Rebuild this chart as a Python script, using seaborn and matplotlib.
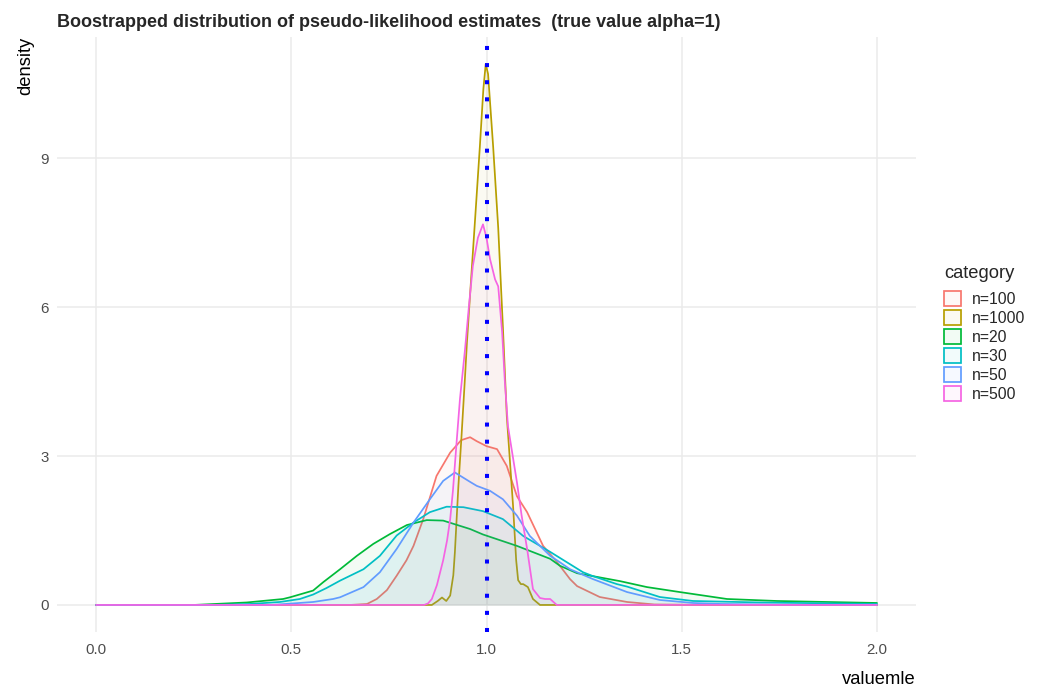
import numpy as np
import pandas as pd
import matplotlib
matplotlib.use("Agg")
import matplotlib.pyplot as plt
import seaborn as sns
from matplotlib.patches import Patch
from matplotlib.colors import to_rgba

# ---------------- data ----------------
categories = ["n=100", "n=1000", "n=20", "n=30", "n=50", "n=500"]
colors = ["#F8766D", "#B79F00", "#00BA38", "#00BFC4", "#619CFF", "#F564E3"]

x_n100 = [0.0, 0.65, 0.694, 0.719, 0.745, 0.77, 0.795, 0.813, 0.838, 0.872, 0.907, 0.935, 0.958,
          0.975, 1.0, 1.027, 1.052, 1.078, 1.104, 1.145, 1.18, 1.214, 1.232, 1.29, 1.36, 1.43,
          1.6, 2.0]
y_n100 = [0, 0, 0.02, 0.12, 0.3, 0.59, 0.9, 1.19, 1.73, 2.6, 3.07, 3.32, 3.38,
          3.3, 3.2, 3.14, 2.8, 2.19, 1.87, 1.19, 0.87, 0.52, 0.38, 0.16, 0.06, 0.01,
          0, 0]

x_n1000 = [0.0, 0.86, 0.875, 0.886, 0.897, 0.907, 0.915, 0.919, 0.928, 0.936, 0.945, 0.95, 0.96,
           0.971, 0.983, 0.992, 0.998, 1.004, 1.017, 1.03, 1.042, 1.052, 1.06, 1.068, 1.076,
           1.081, 1.088, 1.094, 1.106, 1.119, 1.137, 2.0]
y_n1000 = [0, 0, 0.08, 0.15, 0.08, 0.19, 0.6, 1.06, 2.4, 3.4, 4.6, 5.3, 6.5,
           7.8, 9.24, 10.4, 10.9, 10.7, 9.24, 7.6, 5.6, 3.8, 2.9, 2.0, 0.9,
           0.5, 0.42, 0.42, 0.36, 0.12, 0, 0]

x_n20 = [0.0, 0.25, 0.386, 0.479, 0.497, 0.556, 0.582, 0.625, 0.668, 0.71, 0.753, 0.796, 0.847,
         0.889, 0.958, 0.991, 1.078, 1.163, 1.188, 1.232, 1.273, 1.342, 1.411, 1.495, 1.616,
         1.744, 2.0]
y_n20 = [0, 0, 0.05, 0.12, 0.155, 0.29, 0.46, 0.72, 0.99, 1.23, 1.43, 1.61, 1.71,
         1.70, 1.53, 1.42, 1.19, 0.93, 0.79, 0.64, 0.58, 0.48, 0.36, 0.26, 0.12,
         0.08, 0.04]

x_n30 = [0.0, 0.3, 0.394, 0.471, 0.522, 0.556, 0.59, 0.625, 0.685, 0.727, 0.77, 0.813, 0.855,
         0.898, 0.941, 0.991, 1.042, 1.094, 1.163, 1.247, 1.273, 1.334, 1.36, 1.444, 1.529,
         1.70, 2.0]
y_n30 = [0, 0, 0.02, 0.06, 0.12, 0.21, 0.34, 0.49, 0.72, 0.99, 1.4, 1.66, 1.87,
         1.98, 1.97, 1.89, 1.73, 1.39, 1.07, 0.66, 0.58, 0.42, 0.37, 0.16, 0.08,
         0.05, 0.02]

x_n50 = [0.0, 0.45, 0.556, 0.607, 0.625, 0.685, 0.727, 0.77, 0.813, 0.855, 0.889, 0.919, 0.958,
         0.975, 1.009, 1.042, 1.078, 1.111, 1.163, 1.188, 1.214, 1.273, 1.36, 1.444, 1.529,
         1.6, 1.75, 2.0]
y_n50 = [0, 0, 0.06, 0.12, 0.155, 0.36, 0.66, 1.13, 1.66, 2.13, 2.5, 2.67, 2.48,
         2.4, 2.3, 2.13, 1.8, 1.39, 0.99, 0.86, 0.72, 0.52, 0.26, 0.1, 0.04,
         0.02, 0.005, 0]

x_n500 = [0.0, 0.84, 0.85, 0.86, 0.873, 0.889, 0.899, 0.907, 0.914, 0.924, 0.932, 0.945, 0.955,
          0.965, 0.978, 0.991, 1.0, 1.009, 1.022, 1.03, 1.04, 1.047, 1.055, 1.078, 1.09, 1.104,
          1.119, 1.137, 1.15, 1.163, 1.18, 2.0]
y_n500 = [0, 0, 0.03, 0.12, 0.4, 0.9, 1.3, 1.73, 2.3, 3.34, 4.15, 5.15, 6.02,
          6.83, 7.4, 7.67, 7.4, 6.97, 6.56, 6.42, 5.5, 4.5, 3.6, 2.47, 1.8, 1.13,
          0.32, 0.14, 0.12, 0.12, 0, 0]

true_alpha = 1.0
x_ticks = [0.0, 0.5, 1.0, 1.5, 2.0]
x_tick_labels = ["0.0", "0.5", "1.0", "1.5", "2.0"]
y_ticks = [0, 3, 6, 9]
y_tick_labels = ["0", "3", "6", "9"]

title = "Boostrapped distribution of pseudo-likelihood estimates  (true value alpha=1)"

# ---------------- build long table ----------------
series = {
    "n=100": (x_n100, y_n100),
    "n=1000": (x_n1000, y_n1000),
    "n=20": (x_n20, y_n20),
    "n=30": (x_n30, y_n30),
    "n=50": (x_n50, y_n50),
    "n=500": (x_n500, y_n500),
}
frames = []
for cat in categories:
    xs, ys = series[cat]
    frames.append(pd.DataFrame({"valuemle": xs, "density": ys, "category": cat}))
df = pd.concat(frames, ignore_index=True)

# ---------------- style ----------------
sns.set_style("white")
plt.rcParams["font.family"] = ["Liberation Sans", "DejaVu Sans"]

fig = plt.figure(figsize=(10.55, 6.98), dpi=100)
W, H = 1055, 698
ax = fig.add_axes([57 / W, 1 - 632 / H, (916 - 57) / W, (632 - 37) / H])

grid_c = "#ebebeb"
for xt in x_ticks:
    ax.axvline(xt, color=grid_c, lw=1.1, zorder=0)
for yt in y_ticks:
    ax.axhline(yt, color=grid_c, lw=1.1, zorder=0)

palette = dict(zip(categories, colors))
z = 2
for cat in categories:
    sub = df[df["category"] == cat]
    ax.fill_between(sub["valuemle"], 0, sub["density"], color=palette[cat], alpha=0.05,
                    lw=0, zorder=z)
    sns.lineplot(data=sub, x="valuemle", y="density", color=palette[cat], lw=1.25,
                 estimator=None, sort=False, ax=ax, zorder=z + 0.5, legend=False)
    z += 1

ax.axvline(true_alpha, color="blue", lw=2.9, linestyle=(0, (1, 3.25)),
           dash_capstyle="butt", zorder=20)

ymax = df["density"].max()
ax.set_xlim(-0.1, 2.1)
ax.set_ylim(-0.05 * ymax, 1.05 * ymax)
ax.set_xticks(x_ticks)
ax.set_xticklabels(x_tick_labels)
ax.set_yticks(y_ticks)
ax.set_yticklabels(y_tick_labels)
ax.tick_params(axis="both", length=0, labelsize=10.8, labelcolor="#4d4d4d")
ax.tick_params(axis="x", pad=8)
ax.tick_params(axis="y", pad=6)
for s in ax.spines.values():
    s.set_visible(False)
ax.grid(False)

ax.set_xlabel("valuemle", loc="right", fontsize=13.2, color="black", labelpad=10)
ax.set_ylabel("density", loc="top", fontsize=13.2, color="black", labelpad=4)
ax.set_title(title, loc="left", fontsize=13.0, fontweight="bold", pad=7)

# legend (title placed separately to control the gap)
fig.text(944 / W, 1 - 274 / H, "category", fontsize=13.2, va="center", ha="left")
handles = [Patch(facecolor=to_rgba(c, 0.05), edgecolor=c, lw=1.25, label=cat)
           for cat, c in zip(categories, colors)]
leg = fig.legend(handles=handles, loc="upper left",
                 bbox_to_anchor=(944 / W, 1 - 291 / H), frameon=False,
                 fontsize=11.3, handlelength=1.1, handleheight=1.1, labelspacing=0.2,
                 handletextpad=0.7, borderpad=0, borderaxespad=0)

fig.savefig("out.png", dpi=100)
